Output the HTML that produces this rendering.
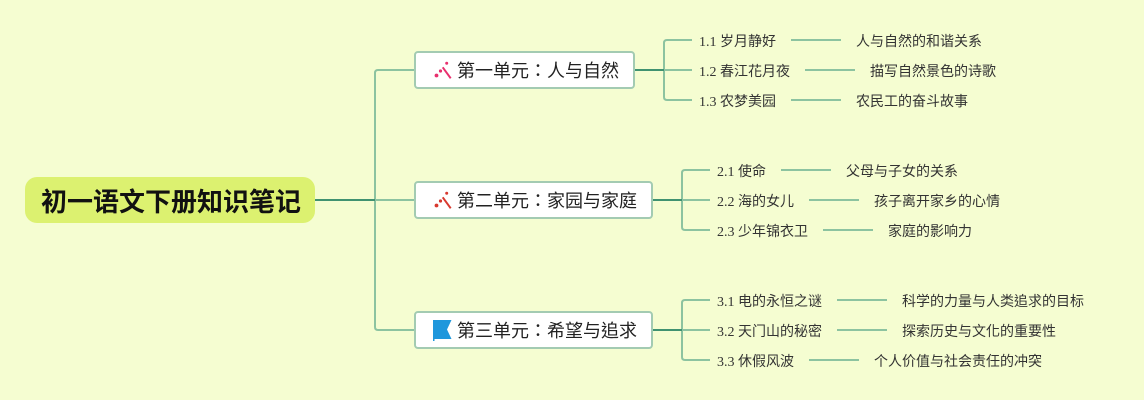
<!DOCTYPE html>
<html><head><meta charset="utf-8"><style>
html,body{margin:0;padding:0;background:#f5fdd1;width:1144px;height:400px;overflow:hidden}
svg{display:block}
text{font-family:"Liberation Serif","Noto Sans CJK TC",sans-serif;fill:#333}
.l{font-size:14px}
.b{font-size:18px;fill:#222}
.t{font-size:26px;font-weight:700;fill:#111;font-family:"Liberation Sans","Noto Sans CJK TC",sans-serif}
.c{fill:none;stroke:#8cc3a0;stroke-width:2}
.d{fill:none;stroke:#3f9270;stroke-width:2}
.n{fill:#fff;stroke:#a3cbb2;stroke-width:2}
</style></head><body>
<svg width="1144" height="400" viewBox="0 0 1144 400" xmlns="http://www.w3.org/2000/svg">
<rect width="1144" height="400" fill="#f5fdd1"/>
<path class="c" d="M415 70H378Q375 70 375 73V327Q375 330 378 330H415M375 200H415"/>
<path class="d" d="M315 200H375"/>
<rect x="25" y="177" width="290" height="46" rx="12" fill="#dcf170"/>
<text class="t" x="41" y="211">初一语文下册知识笔记</text>

<path class="c" d="M692 40H667Q664 40 664 43V97Q664 100 667 100H692M664 70H692"/>
<path class="d" d="M634 70H664"/>
<path class="c" d="M710 170H685Q682 170 682 173V227Q682 230 685 230H710M682 200H710"/>
<path class="d" d="M652 200H682"/>
<path class="c" d="M710 300H685Q682 300 682 303V357Q682 360 685 360H710M682 330H710"/>
<path class="d" d="M652 330H682"/>

<rect class="n" x="415" y="52" width="219" height="36" rx="3"/>
<rect class="n" x="415" y="182" width="237" height="36" rx="3"/>
<rect class="n" x="415" y="312" width="237" height="36" rx="3"/>

<g fill="#e8306e" stroke="#e8306e">
<path d="M442.700 67.300L450.700 78.300" stroke-width="2" fill="none"/>
<circle cx="446.700" cy="63.300" r="1.500" stroke="none"/>
<circle cx="436.500" cy="75.500" r="1.900" stroke="none"/>
<circle cx="440.500" cy="71" r="1.600" stroke="none"/>
</g>
<g fill="#d8392f" stroke="#d8392f">
<path d="M442.700 197.300L450.700 208.300" stroke-width="2" fill="none"/>
<circle cx="446.700" cy="193.300" r="1.500" stroke="none"/>
<circle cx="436.500" cy="205.500" r="1.900" stroke="none"/>
<circle cx="440.500" cy="201" r="1.600" stroke="none"/>
</g>
<path d="M433 320H451.500L447 329.500L451.500 339H434.500V341H433Z" fill="#1f97dc"/>

<text class="b" x="457" y="77">第一单元：人与自然</text>
<text class="b" x="457" y="207">第二单元：家园与家庭</text>
<text class="b" x="457" y="337">第三单元：希望与追求</text>

<path class="c" d="M791 40H841M805 70H855M791 100H841M781 170H831M809 200H859M823 230H873M837 300H887M837 330H887M809 360H859"/>

<text class="l" x="699" y="46">1.1 岁月静好</text>
<text class="l" x="699" y="76">1.2 春江花月夜</text>
<text class="l" x="699" y="106">1.3 农梦美园</text>
<text class="l" x="856" y="46">人与自然的和谐关系</text>
<text class="l" x="870" y="76">描写自然景色的诗歌</text>
<text class="l" x="856" y="106">农民工的奋斗故事</text>

<text class="l" x="717" y="176">2.1 使命</text>
<text class="l" x="717" y="206">2.2 海的女儿</text>
<text class="l" x="717" y="236">2.3 少年锦衣卫</text>
<text class="l" x="846" y="176">父母与子女的关系</text>
<text class="l" x="874" y="206">孩子离开家乡的心情</text>
<text class="l" x="888" y="236">家庭的影响力</text>

<text class="l" x="717" y="306">3.1 电的永恒之谜</text>
<text class="l" x="717" y="336">3.2 天门山的秘密</text>
<text class="l" x="717" y="366">3.3 休假风波</text>
<text class="l" x="902" y="306">科学的力量与人类追求的目标</text>
<text class="l" x="902" y="336">探索历史与文化的重要性</text>
<text class="l" x="874" y="366">个人价值与社会责任的冲突</text>
</svg>
</body></html>
